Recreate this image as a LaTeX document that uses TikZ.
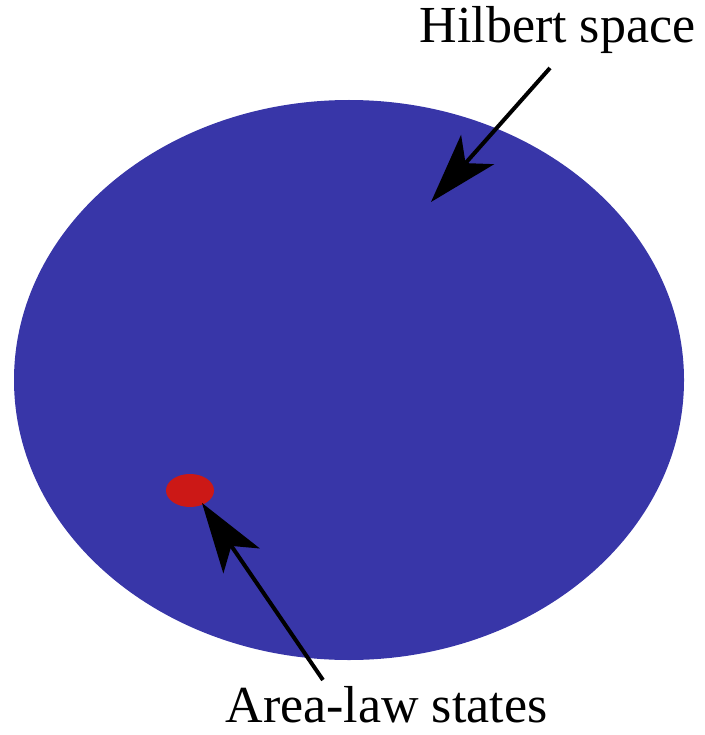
\documentclass[tikz,border=0pt]{standalone}
\usepackage{fontspec}
\setmainfont{Liberation Serif}
\usetikzlibrary{arrows.meta,shapes.geometric}
\definecolor{hblue}{RGB}{56,54,168}
\definecolor{hred}{RGB}{204,24,22}
\tikzset{
  region/.style={ellipse, inner sep=0pt, draw=none},
  lbl/.style={inner sep=0pt, anchor=base, font=\fontsize{52}{60}\selectfont},
  pointer/.style={line width=4pt, -{Stealth[length=70pt, width=44pt, inset=18pt]}}
}
\begin{document}
\begin{tikzpicture}[x=1pt,y=-1pt]
\useasboundingbox (0,0) rectangle (704,735);
\node[region, fill=hblue, minimum width=670pt, minimum height=560pt] (hs) at (349,380) {};
\node[region, fill=hred, minimum width=48pt, minimum height=33pt] (al) at (190,490.5) {};
\node[lbl] (hlabel) at (557.5,43) {Hilbert space};
\node[lbl] (alabel) at (386.5,722) {Area-law states};
\coordinate (t1) at (550,68);
\coordinate (h1) at (431,202);
\coordinate (t2) at (323,680);
\coordinate (h2) at (202,503);
\draw[pointer] (t1) -- (h1);
\draw[pointer] (t2) -- (h2);
\end{tikzpicture}
\end{document}
